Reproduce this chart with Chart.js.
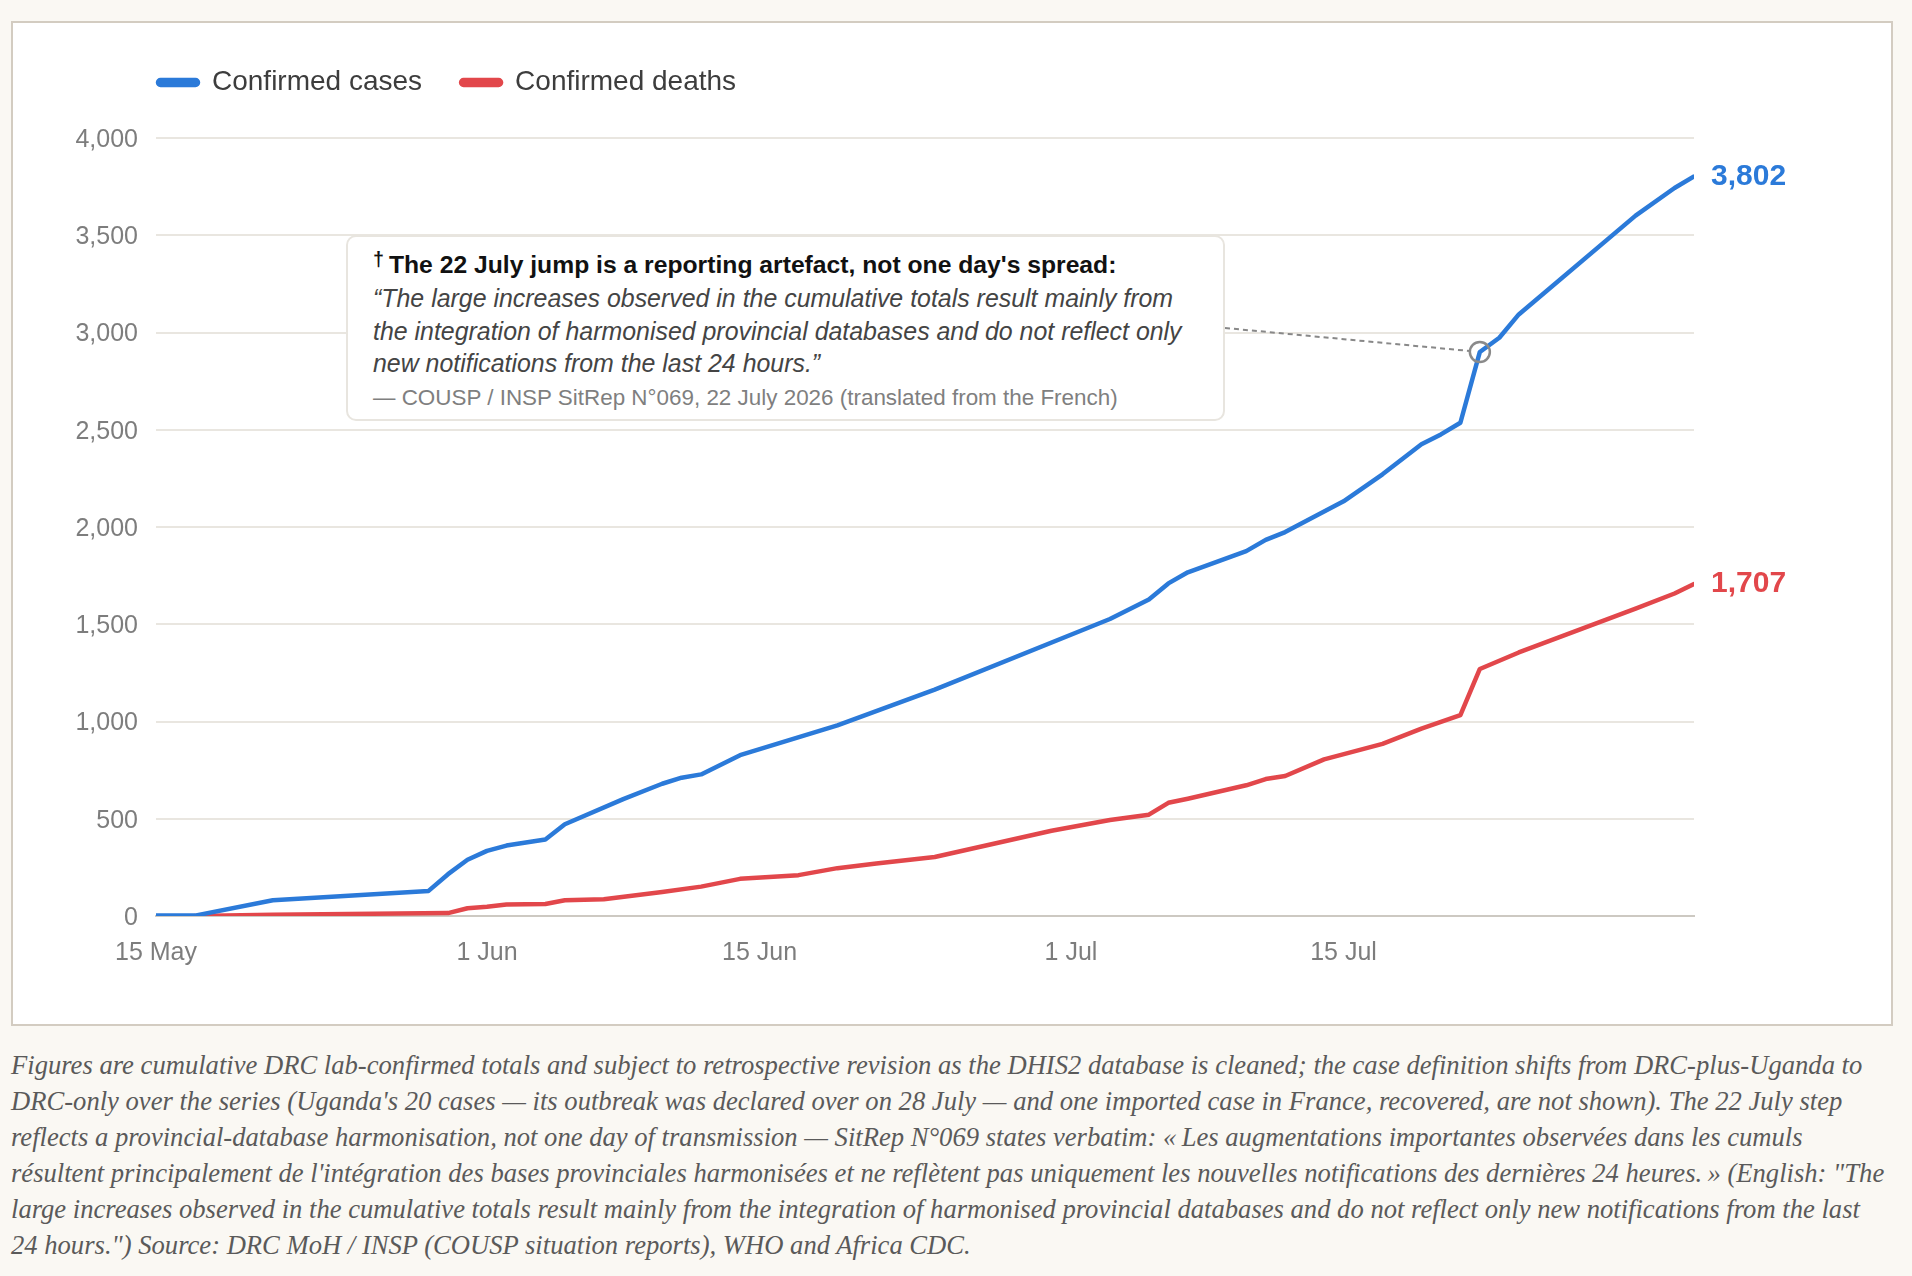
<!DOCTYPE html>
<html>
<head>
<meta charset="utf-8">
<script src="https://cdn.jsdelivr.net/npm/chart.js@4.4.1/dist/chart.umd.min.js"></script>
<style>
html,body{margin:0;padding:0;background:#faf8f3;width:1912px;height:1276px;overflow:hidden;}
#card{position:absolute;left:11px;top:21px;width:1882px;height:1005px;box-sizing:border-box;border:2px solid #d3ccc1;background:#fff;}
#wrap{position:absolute;left:0;top:0;width:1912px;height:1030px;}
#note{position:absolute;left:346px;top:235px;width:879px;height:186px;box-sizing:border-box;border:2px solid #e8e5df;border-radius:10px;background:#fff;font-family:'Liberation Sans',Arial,sans-serif;}
#note .ln{position:absolute;left:25px;white-space:nowrap;line-height:30px;height:30px;}
#note .ln span{display:inline-block;}
#n-title{top:7px;font-weight:bold;color:#111;font-size:22px;}
#n-title .dag{font-size:0.8em;vertical-align:0.35em;margin-right:0.25em;}
.n-it{font-style:italic;color:#444;font-size:22px;}
#n-1{top:46px;} #n-2{top:79px;} #n-3{top:111px;}
#n-src{top:146px;color:#7f7f7f;font-size:20px;}
#foot{position:absolute;left:11px;top:1047px;font-family:'Liberation Serif','Times New Roman',serif;font-style:italic;color:#5a5a5a;font-size:24px;}
#foot div{white-space:nowrap;line-height:36px;height:36px;}
#foot span{display:inline-block;}
</style>
</head>
<body>
<div id="card"></div>
<div id="wrap"><canvas id="c"></canvas></div>
<div id="note">
  <div class="ln" id="n-title"><span><span class="dag">†</span>The 22 July jump is a reporting artefact, not one day's spread:</span></div>
  <div class="ln n-it" id="n-1"><span>“The large increases observed in the cumulative totals result mainly from</span></div>
  <div class="ln n-it" id="n-2"><span>the integration of harmonised provincial databases and do not reflect only</span></div>
  <div class="ln n-it" id="n-3"><span>new notifications from the last 24 hours.”</span></div>
  <div class="ln" id="n-src"><span>— COUSP / INSP SitRep N°069, 22 July 2026 (translated from the French)</span></div>
</div>
<div id="foot">
  <div><span id="f1">Figures are cumulative DRC lab-confirmed totals and subject to retrospective revision as the DHIS2 database is cleaned; the case definition shifts from DRC-plus-Uganda to</span></div>
  <div><span>DRC-only over the series (Uganda's 20 cases — its outbreak was declared over on 28 July — and one imported case in France, recovered, are not shown). The 22 July step</span></div>
  <div><span>reflects a provincial-database harmonisation, not one day of transmission — SitRep N°069 states verbatim: «&#8239;Les augmentations importantes observées dans les cumuls</span></div>
  <div><span>résultent principalement de l'intégration des bases provinciales harmonisées et ne reflètent pas uniquement les nouvelles notifications des dernières 24 heures.&#8239;» (English: "The</span></div>
  <div><span>large increases observed in the cumulative totals result mainly from the integration of harmonised provincial databases and do not reflect only new notifications from the last</span></div>
  <div><span>24 hours.") Source: DRC MoH / INSP (COUSP situation reports), WHO and Africa CDC.</span></div>
</div>
<script>
// ---------- DATA ----------
const startDate = '2026-05-15';
const endDate = '2026-08-02';

const caseDates = ['2026-05-15','2026-05-17','2026-05-21','2026-05-29','2026-05-30','2026-05-31','2026-06-01','2026-06-02','2026-06-04','2026-06-05','2026-06-08','2026-06-10','2026-06-11','2026-06-12','2026-06-14','2026-06-19','2026-06-24','2026-07-03','2026-07-05','2026-07-06','2026-07-07','2026-07-10','2026-07-11','2026-07-12','2026-07-15','2026-07-17','2026-07-19','2026-07-20','2026-07-21','2026-07-22','2026-07-23','2026-07-24','2026-07-30','2026-08-01','2026-08-02'];
const caseValues = [2,2,81,129,215,289,335,362,393,472,601,680,711,728,827,980,1164,1527,1627,1710,1767,1876,1934,1974,2132,2271,2425,2476,2536,2900,2973,3093,3601,3743,3802];

const deathDates = ['2026-05-17','2026-05-21','2026-05-30','2026-05-31','2026-06-01','2026-06-02','2026-06-04','2026-06-05','2026-06-07','2026-06-10','2026-06-12','2026-06-14','2026-06-17','2026-06-19','2026-06-21','2026-06-24','2026-06-30','2026-07-03','2026-07-05','2026-07-06','2026-07-07','2026-07-10','2026-07-11','2026-07-12','2026-07-14','2026-07-17','2026-07-19','2026-07-21','2026-07-22','2026-07-24','2026-07-30','2026-08-01','2026-08-02'];
const deathValues = [0,7,15,40,48,59,62,81,86,123,151,191,210,246,270,303,438,494,521,582,603,672,704,720,805,885,963,1033,1270,1355,1580,1658,1707];

const seriesNames = ['Confirmed cases','Confirmed deaths'];
const seriesColors = ['#2b7ad9','#e2474b'];
const xTickDates = ['2026-05-15','2026-06-01','2026-06-15','2026-07-01','2026-07-15'];
const xTickLabels = ['15 May','1 Jun','15 Jun','1 Jul','15 Jul'];
const yTickValues = [0,500,1000,1500,2000,2500,3000,3500,4000];
const jumpDate = '2026-07-22';

// ---------- helpers ----------
const DAY = 86400000;
function dayOf(s){ return (Date.parse(s+'T00:00:00Z') - Date.parse(startDate+'T00:00:00Z'))/DAY; }
function toPoints(dates, vals){ return dates.map((d,i)=>({x:dayOf(d), y:vals[i]})); }

function fitTo(el, target){ const base=parseFloat(getComputedStyle(el).fontSize); const w=el.getBoundingClientRect().width; return base*target/w; }
(function(){
  const t = document.querySelector('#n-title span');
  document.getElementById('n-title').style.fontSize = fitTo(t, 744)+'px';
  const s2 = document.querySelector('#n-2 span');
  const fs = fitTo(s2, 809);
  document.querySelectorAll('.n-it').forEach(e=>e.style.fontSize=fs+'px');
  const src = document.querySelector('#n-src span');
  document.getElementById('n-src').style.fontSize = fitTo(src, 745)+'px';
  const f1 = document.getElementById('f1');
  document.getElementById('foot').style.fontSize = fitTo(f1, 1852)+'px';
})();

const FONT = "'Liberation Sans', Arial, sans-serif";
const LEG_FS = 28, LEG_PAD = 39;
const PLOT = {top:138, left:156, right:1694, bottom:916};

const legendShift = {
  id:'legendShift',
  afterLayout(chart){
    const lg = chart.legend;
    const dx = (PLOT.left + 2 - LEG_PAD) - lg.left; lg.left += dx; lg.right += dx;
    const dy = (82.5 - LEG_PAD - LEG_FS/2) - lg.top; lg.top += dy; lg.bottom += dy;
  }
};

const annot = {
  id:'annot',
  afterDatasetsDraw(chart){
    const {ctx, scales:{x, y}} = chart;
    chart.data.datasets.forEach((ds, i) => {
      const pts = chart.getDatasetMeta(i).data; const p = pts[pts.length-1];
      const v = ds.data[ds.data.length-1].y;
      ctx.save();
      ctx.font = "bold 30px " + FONT;
      ctx.fillStyle = ds.borderColor; ctx.textAlign = 'left'; ctx.textBaseline = 'middle';
      ctx.fillText(v.toLocaleString('en-US'), p.x + 17, p.y);
      ctx.restore();
    });
    const jv = caseValues[caseDates.indexOf(jumpDate)];
    const cx = x.getPixelForValue(dayOf(jumpDate)), cy = y.getPixelForValue(jv);
    const r = 10;
    const box = document.getElementById('note').getBoundingClientRect();
    const sx = box.right, sy = box.top + box.height/2;
    const ang = Math.atan2(cy - sy, cx - sx);
    ctx.save();
    ctx.strokeStyle = '#888'; ctx.lineWidth = 2; ctx.setLineDash([5,4]);
    ctx.beginPath(); ctx.moveTo(sx, sy); ctx.lineTo(cx - r*Math.cos(ang), cy - r*Math.sin(ang)); ctx.stroke();
    ctx.setLineDash([]); ctx.lineWidth = 2.5; ctx.strokeStyle = '#8a8a8a';
    ctx.beginPath(); ctx.arc(cx, cy, r, 0, Math.PI*2); ctx.stroke();
    ctx.restore();
  }
};

Chart.defaults.font.family = FONT;

new Chart(document.getElementById('c'), {
  type:'line',
  data:{
    datasets:[
      {label:seriesNames[0], data:toPoints(caseDates, caseValues), borderColor:seriesColors[0], backgroundColor:seriesColors[0], borderWidth:4.5, pointRadius:0, tension:0, borderCapStyle:'round', borderJoinStyle:'round'},
      {label:seriesNames[1], data:toPoints(deathDates, deathValues), borderColor:seriesColors[1], backgroundColor:seriesColors[1], borderWidth:4.5, pointRadius:0, tension:0, borderCapStyle:'round', borderJoinStyle:'round'}
    ]
  },
  options:{
    responsive:true, maintainAspectRatio:false, animation:false,
    layout:{padding:{top:PLOT.top - (LEG_FS + LEG_PAD + 10), left:20, right:1912-PLOT.right, bottom:0}},
    plugins:{
      legend:{display:true, position:'top', align:'start',
        labels:{boxWidth:40, boxHeight:5, useBorderRadius:true, borderRadius:2.5, padding:LEG_PAD, color:'#3d3d3d', font:{size:LEG_FS}}},
      tooltip:{enabled:false}
    },
    scales:{
      x:{type:'linear', min:dayOf(startDate), max:dayOf(endDate),
        grid:{display:false, drawTicks:false, tickLength:0},
        border:{display:true, color:'#cdc9c2', width:2},
        afterBuildTicks(ax){ ax.ticks = xTickDates.map(d=>({value:dayOf(d)})); },
        afterFit(ax){ ax.height = 1030 - PLOT.bottom; },
        ticks:{autoSkip:false, maxRotation:0, padding:22, color:'#7d7d7d', font:{size:25}, callback:(v,i)=>xTickLabels[i]}
      },
      y:{min:0, max:4000,
        grid:{color:'#e9e6e0', lineWidth:2, drawTicks:false, tickLength:0},
        border:{display:false},
        afterBuildTicks(ax){ ax.ticks = yTickValues.map(v=>({value:v})); },
        afterFit(ax){ ax.width = PLOT.left - 20; },
        ticks:{padding:18, labelOffset:2, color:'#7d7d7d', font:{size:25}, callback:v=>v.toLocaleString('en-US')}
      }
    }
  },
  plugins:[legendShift, annot]
});
</script>
</body>
</html>
